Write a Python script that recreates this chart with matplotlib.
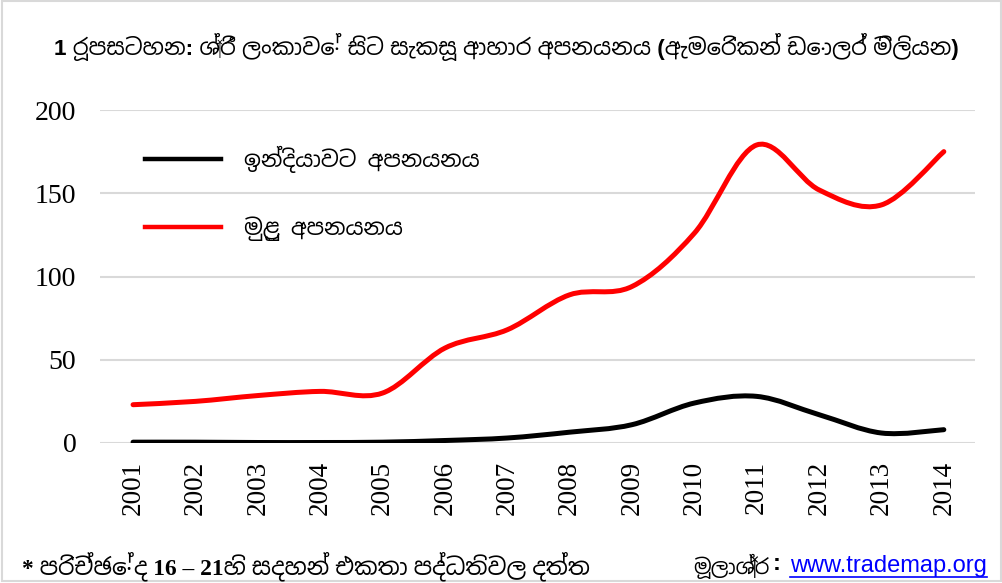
import matplotlib
matplotlib.use("Agg")
import matplotlib.pyplot as plt
import matplotlib.font_manager as fm
from matplotlib.path import Path
from matplotlib.patches import PathPatch, Rectangle
from matplotlib.lines import Line2D

# data (USD million)
years = ["2001", "2002", "2003", "2004", "2005", "2006", "2007",
         "2008", "2009", "2010", "2011", "2012", "2013", "2014"]
to_india = [0.5, 0.5, 0.3, 0.3, 0.5, 1.5, 3, 6.5, 11, 24, 28, 17, 6, 8]
total = [23, 25, 28.5, 31, 30, 57, 68, 89, 94, 126, 179, 152, 143, 175]

title = "1 රූපසටහන: ශ්‍රී ලංකාවේ සිට සැකසූ ආහාර අපනයනය (ඇමෙරිකන් ඩොලර් මිලියන)"
label_india = "ඉන්දියාවට අපනයනය"
label_total = "මුළු අපනයනය"
note = "* පරිච්ඡේද 16 – 21හි සදහන් එකතා පද්ධතිවල දත්ත"
source = "මූලාශ්‍ර"
link = "www.trademap.org"

# find a font with sinhala glyphs, if there is one
sin = [f.name for f in fm.fontManager.ttflist
       if "Sinhala" in f.name or "Iskoola" in f.name]
sin_font = sin[0] if sin else "DejaVu Sans"


def smooth_path(x, y):
    """ bezier path through the points, like the excel smoothed line """
    n = len(x)
    verts = [(x[0], y[0])]
    codes = [Path.MOVETO]
    for i in range(n - 1):
        i0, i3 = max(i - 1, 0), min(i + 2, n - 1)
        c1 = (x[i] + (x[i + 1] - x[i0]) / 6, y[i] + (y[i + 1] - y[i0]) / 6)
        c2 = (x[i + 1] - (x[i3] - x[i]) / 6, y[i + 1] - (y[i3] - y[i]) / 6)
        verts += [c1, c2, (x[i + 1], y[i + 1])]
        codes += [Path.CURVE4] * 3
    return Path(verts, codes)


fig = plt.figure(figsize=(10.03, 5.83), dpi=100)
ax = fig.add_axes([100 / 1003, 1 - 443 / 583, 875 / 1003, 333 / 583])

xs = list(range(len(years)))
for vals, col in [(to_india, "black"), (total, "#ff0000")]:
    ax.add_patch(PathPatch(smooth_path(xs, vals), fill=False, edgecolor=col,
                           lw=3.6, capstyle="round", joinstyle="round", zorder=3))

ax.set_xlim(-0.53, 13.5)
ax.set_ylim(0, 200)
ax.set_yticks([0, 50, 100, 150, 200])
ax.set_xticks(xs)
ax.set_xticklabels(years, rotation=90, family="Liberation Serif", fontsize=19.5)
for t in ax.get_yticklabels():
    t.set_family("Liberation Serif")
    t.set_fontsize(20)
ax.tick_params(axis="x", length=0, pad=13)
ax.tick_params(axis="y", length=0, pad=17)
ax.grid(axis="y", color="#d9d9d9", lw=1.5)
ax.set_axisbelow(True)
for s in ax.spines.values():
    s.set_visible(False)

handles = [Line2D([], [], color="black", lw=3.2),
           Line2D([], [], color="#ff0000", lw=3.2)]
fig.legend(handles, [label_india, label_total], loc="upper left",
           bbox_to_anchor=(145 / 1003, 1 - 146 / 583), frameon=False,
           borderpad=0, borderaxespad=0, handlelength=3.4, handletextpad=1.05,
           labelspacing=1.95, prop={"family": [sin_font, "DejaVu Sans"], "size": 16})

fig.text(506 / 1003, 1 - 47 / 583, title, ha="center", va="center",
         fontsize=16.2, fontweight="bold", family=["Liberation Sans", sin_font])
fig.text(22 / 1003, 1 - 566 / 583, note, ha="left", va="center",
         fontsize=16.8, fontweight="bold", family=["Liberation Serif", sin_font])
fig.text(693 / 1003, 1 - 566 / 583, source, ha="left", va="center",
         fontsize=15, fontweight="bold", family=[sin_font, "Liberation Sans"])
fig.text(773 / 1003, 1 - 564 / 583, ":", ha="left", va="center",
         fontsize=17, fontweight="bold", family="Liberation Sans")
lt = fig.text(790 / 1003, 1 - 566 / 583, link, ha="left", va="center", fontsize=17,
              color="#0000ff", family="Liberation Sans", url="http://www.trademap.org")

# underline the link
fig.canvas.draw()
bb = lt.get_window_extent().transformed(fig.transFigure.inverted())
fig.add_artist(Line2D([bb.x0, bb.x1], [1 - 577 / 583] * 2, color="#0000ff", lw=1.2))

fig.add_artist(Rectangle((0.002, 0.004), 0.996, 0.994, fill=False,
                         edgecolor="#d9d9d9", lw=1.5, transform=fig.transFigure))

fig.savefig("out.png", dpi=100)
